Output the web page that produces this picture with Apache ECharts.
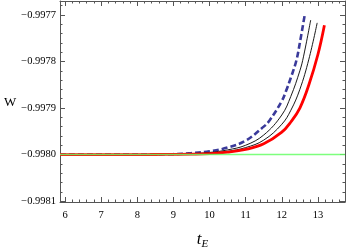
<!DOCTYPE html>
<html><head><meta charset="utf-8">
<script src="https://cdn.jsdelivr.net/npm/echarts@6/dist/echarts.min.js"></script>
<style>html,body{margin:0;padding:0;background:#fff}#c{width:346px;height:249px}</style>
</head><body><div id="c"></div>
<script>
// ---- data ----
const tBlue  = [5.86, 8, 8.5, 9, 9.5, 10, 10.5, 11, 11.5, 11.66, 12, 12.12, 12.25, 12.4, 12.5, 12.63];
const wBlue  = [-0.998, -0.998, -0.9979997, -0.997999, -0.997997, -0.997993, -0.997985, -0.99797, -0.99794, -0.997927, -0.997885, -0.997863, -0.997835, -0.997799, -0.99776, -0.997702];
const tBlack1 = [5.86, 8, 8.5, 9, 9.5, 10, 10.5, 11, 11.5, 12, 12.25, 12.5, 12.6, 12.8];
const wBlack1 = [-0.998, -0.998, -0.9979998, -0.9979994, -0.997998, -0.9979955, -0.99799, -0.99798, -0.997958, -0.997915, -0.997875, -0.99782, -0.99779, -0.997711];
const tBlack2 = [5.86, 8, 8.5, 9, 9.5, 10, 10.5, 11, 11.5, 12, 12.25, 12.5, 12.75, 12.98];
const wBlack2 = [-0.998, -0.998, -0.9979999, -0.9979996, -0.9979988, -0.997997, -0.997993, -0.997985, -0.997969, -0.997935, -0.997905, -0.99786, -0.997795, -0.997717];
const tRed   = [5.86, 8, 8.5, 9, 9.5, 10, 10.5, 11, 11.5, 12, 12.25, 12.5, 12.75, 13, 13.18];
const wRed   = [-0.998, -0.998, -0.9979999, -0.9979997, -0.9979992, -0.997998, -0.997995, -0.997989, -0.997977, -0.997952, -0.99793, -0.9979, -0.99785, -0.997785, -0.997722];
const tGreen = [5.86, 13.75];
const wGreen = [-0.998, -0.998];
const xTicks = [6, 7, 8, 9, 10, 11, 12, 13];
const yTicks = [-0.9981, -0.998, -0.9979, -0.9978, -0.9977];

const X_MIN = 5.86, X_MAX = 13.75, Y_MIN = -0.998102, Y_MAX = -0.99767;
const xMinor = []; for (let i = 30; i <= 68; i++) xMinor.push(i / 5);
const yMinor = []; for (let i = -49905; i <= -49884; i++) yMinor.push(i / 50000);

const pairs = (a, b) => a.map((v, i) => [v, b[i]]);
const axisCol = '#555';
const font = 'Liberation Serif';

function xAx(pos, minor, labels) {
  return {
    type: 'value', position: pos, min: X_MIN, max: X_MAX,
    axisLine: { show: !minor, lineStyle: { color: axisCol, width: 1 } },
    splitLine: { show: false },
    axisTick: { show: true, inside: true, length: minor ? 2.5 : 5, customValues: minor ? xMinor : xTicks, lineStyle: { color: axisCol } },
    axisLabel: labels ? { show: true, customValues: xTicks, margin: 8, color: '#000', fontFamily: font, fontSize: 10.5, formatter: v => String(v) } : { show: false }
  };
}
function yAx(pos, minor, labels) {
  return {
    type: 'value', position: pos, min: Y_MIN, max: Y_MAX,
    axisLine: { show: !minor, lineStyle: { color: axisCol, width: 1 } },
    splitLine: { show: false },
    axisTick: { show: true, inside: true, length: minor ? 2.5 : 5, customValues: minor ? yMinor : yTicks, lineStyle: { color: axisCol } },
    axisLabel: labels ? { show: true, customValues: yTicks, margin: 4, color: '#000', fontFamily: font, fontSize: 10.5, formatter: v => '\u2212' + Math.abs(v).toFixed(4) } : { show: false }
  };
}

const xAxes = [xAx('bottom', false, true), xAx('bottom', true, false), xAx('top', false, false), xAx('top', true, false)];
xAxes[0].name = '{t|t}{s|E}';
xAxes[0].nameLocation = 'middle';
xAxes[0].nameGap = 27;
xAxes[0].nameTextStyle = { rich: { t: { fontFamily: font, fontStyle: 'italic', fontSize: 17, color: '#000' }, s: { fontFamily: font, fontStyle: 'italic', fontSize: 11, color: '#000', padding: [10, 0, 0, 0] } } };
const yAxes = [yAx('left', false, true), yAx('left', true, false), yAx('right', false, false), yAx('right', true, false)];

const chart = echarts.init(document.getElementById('c'), null, { renderer: 'canvas' });
chart.setOption({
  animation: false,
  backgroundColor: '#fff',
  grid: { left: 60, right: 1, top: 1, bottom: 47, containLabel: false, outerBoundsMode: 'none' },
  xAxis: xAxes,
  yAxis: yAxes,
  graphic: [{ type: 'text', left: 4, top: 96, style: { text: 'W', fontFamily: font, fontSize: 13, fill: '#000' } }],
  series: [
    { type: 'line', data: pairs(tBlue, wBlue), smooth: 0.4, symbol: 'none', lineStyle: { color: '#3a3a9a', width: 2.6, type: [6, 3] } },
    { type: 'line', data: pairs(tBlack1, wBlack1), smooth: 0.4, symbol: 'none', lineStyle: { color: '#000', width: 0.9 } },
    { type: 'line', data: pairs(tBlack2, wBlack2), smooth: 0.4, symbol: 'none', lineStyle: { color: '#000', width: 0.9 } },
    { type: 'line', data: pairs(tRed, wRed), smooth: 0.4, symbol: 'none', lineStyle: { color: '#ff0000', width: 2.8 } },
    { type: 'line', data: pairs(tGreen, wGreen), symbol: 'none', lineStyle: { color: '#66ff66', width: 1.5, opacity: 0.85 } }
  ]
});
</script></body></html>
